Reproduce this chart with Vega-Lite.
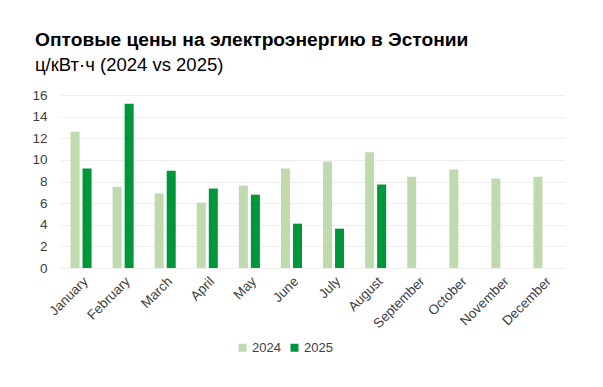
{
  "$schema": "https://vega.github.io/schema/vega-lite/v6.json",
  "width": 505,
  "height": 173,
  "autosize": {"type": "none"},
  "padding": {"left": 60, "top": 95, "right": 38, "bottom": 119},
  "background": "white",
  "title": {
    "text": "Оптовые цены на электроэнергию в Эстонии",
    "subtitle": "ц/кВт·ч (2024 vs 2025)",
    "anchor": "start",
    "frame": "group",
    "dx": -25,
    "offset": 14,
    "font": "Liberation Sans",
    "fontSize": 19.2,
    "fontWeight": "bold",
    "color": "#000000",
    "subtitleFont": "Liberation Sans",
    "subtitleFontSize": 18.5,
    "subtitleColor": "#000000",
    "subtitlePadding": 5
  },
  "data": {
    "values": [
      {"month": "January", "year": "2024", "price": 12.6},
      {"month": "January", "year": "2025", "price": 9.2},
      {"month": "February", "year": "2024", "price": 7.5},
      {"month": "February", "year": "2025", "price": 15.2},
      {"month": "March", "year": "2024", "price": 6.9},
      {"month": "March", "year": "2025", "price": 9.0},
      {"month": "April", "year": "2024", "price": 6.05},
      {"month": "April", "year": "2025", "price": 7.35},
      {"month": "May", "year": "2024", "price": 7.62},
      {"month": "May", "year": "2025", "price": 6.78},
      {"month": "June", "year": "2024", "price": 9.2},
      {"month": "June", "year": "2025", "price": 4.1},
      {"month": "July", "year": "2024", "price": 9.85},
      {"month": "July", "year": "2025", "price": 3.64},
      {"month": "August", "year": "2024", "price": 10.7},
      {"month": "August", "year": "2025", "price": 7.72},
      {"month": "September", "year": "2024", "price": 8.45},
      {"month": "October", "year": "2024", "price": 9.1},
      {"month": "November", "year": "2024", "price": 8.27},
      {"month": "December", "year": "2024", "price": 8.45}
    ]
  },
  "mark": {"type": "bar"},
  "encoding": {
    "x": {
      "field": "month",
      "type": "nominal",
      "sort": ["January","February","March","April","May","June","July","August","September","October","November","December"],
      "scale": {"paddingInner": 0.5, "paddingOuter": 0.25},
      "axis": {
        "title": null,
        "labelAngle": -45,
        "labelFont": "Liberation Sans",
        "labelFontSize": 13.5,
        "labelColor": "#404040",
        "ticks": false,
        "domain": false,
        "labelPadding": 6
      }
    },
    "xOffset": {
      "field": "year",
      "type": "nominal",
      "scale": {"paddingInner": 0.25, "paddingOuter": 0}
    },
    "y": {
      "field": "price",
      "type": "quantitative",
      "scale": {"domain": [0, 16]},
      "axis": {
        "title": null,
        "values": [0, 2, 4, 6, 8, 10, 12, 14, 16],
        "labelFont": "Liberation Sans",
        "labelFontSize": 13.5,
        "labelColor": "#404040",
        "labelPadding": 13,
        "ticks": false,
        "domain": false,
        "gridColor": "#eeeeee",
        "gridWidth": 1
      }
    },
    "color": {
      "field": "year",
      "type": "nominal",
      "scale": {"domain": ["2024", "2025"], "range": ["#c0dab0", "#00973a"]},
      "legend": {
        "title": null,
        "orient": "none",
        "direction": "horizontal",
        "legendX": 176,
        "legendY": 246,
        "symbolType": "square",
        "symbolSize": 64,
        "symbolStrokeWidth": 0,
        "labelFont": "Liberation Sans",
        "labelFontSize": 13,
        "labelColor": "#404040",
        "columnPadding": 7,
        "labelOffset": 3
      }
    }
  },
  "config": {
    "view": {"stroke": null}
  }
}
